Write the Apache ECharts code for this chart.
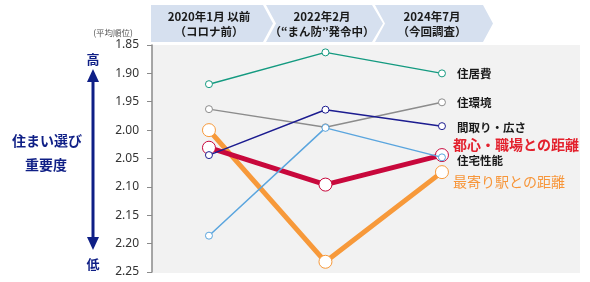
<!DOCTYPE html>
<html><head><meta charset="utf-8">
<style>html,body{margin:0;padding:0;background:#fff;}#c{width:590px;height:282px;}</style>
<script src="https://cdn.jsdelivr.net/npm/echarts@6/dist/echarts.min.js"></script>
</head><body><div id="c"></div>
<script>
const categories = ['2020年1月 以前\n（コロナ前）', '2022年2月\n（“まん防”発令中）', '2024年7月\n（今回調査）'];
const yTicks = [1.85, 1.90, 1.95, 2.00, 2.05, 2.10, 2.15, 2.20, 2.25];
const seriesNames = ['住居費', '住環境', '間取り・広さ', '住宅性能', '都心・職場との距離', '最寄り駅との距離'];
const housingCost = [1.919, 1.863, 1.900];
const environment = [1.963, 1.995, 1.951];
const layoutSize = [2.044, 1.964, 1.993];
const performance = [2.186, 1.996, 2.048];
const cityDistance = [2.031, 2.096, 2.044];
const stationDistance = [2.000, 2.232, 2.074];

const chart = echarts.init(document.getElementById('c'), null, {renderer: 'canvas'});
const JP = '"Noto Sans CJK JP", sans-serif';
const navy = '#0f1f86';

function mk(name, vals, color, width, symSize, z, lab) {
  return {
    type: 'line', name: name, z: z,
    data: vals.map((v, i) => i === vals.length - 1 ? {
      value: [i, v],
      label: Object.assign({show: true, position: 'right', formatter: name, fontFamily: JP}, lab)
    } : [i, v]),
    lineStyle: {color: color, width: width},
    itemStyle: {color: '#fff', borderColor: color, borderWidth: 1},
    symbol: 'circle', symbolSize: symSize, showSymbol: true,
    emphasis: {disabled: true}, silent: true
  };
}
const small = (dy) => ({fontSize: 11.5, fontWeight: 'bold', color: '#1a1a1a', distance: 11, offset: [0, dy]});

const chev = (pts) => ({type: 'polygon', shape: {points: pts}, style: {fill: '#d6e0ef'}, silent: true});
const headerX = [209, 322, 432];

const graphics = [
  {type: 'rect', z: -100, shape: {x: 152, y: 45, width: 428, height: 228}, style: {fill: '#f2f2f2'}, silent: true},
  chev([[151,5],[263,5],[273,23.5],[263,42],[151,42]]),
  chev([[266,5],[372,5],[383,23.5],[372,42],[266,42],[276,23.5]]),
  chev([[375,5],[483,5],[493,23.5],[483,42],[375,42],[385,23.5]])
];
categories.forEach((c, i) => {
  const lines = c.split('\n');
  lines.forEach((t, j) => graphics.push({
    type: 'text', x: headerX[i], y: j === 0 ? 17 : 31.5,
    style: {text: t, fill: '#1a1a1a', font: 'bold 11.5px ' + JP, align: 'center', verticalAlign: 'middle'}
  }));
});
graphics.push(
  {type: 'text', x: 113, y: 32.5, style: {text: '(平均順位)', fill: '#555', font: '8.5px ' + JP, align: 'center', verticalAlign: 'middle'}},
  {type: 'text', x: 93, y: 59.5, style: {text: '高', fill: navy, font: 'bold 13px ' + JP, align: 'center', verticalAlign: 'middle'}},
  {type: 'text', x: 93, y: 264, style: {text: '低', fill: navy, font: 'bold 13px ' + JP, align: 'center', verticalAlign: 'middle'}},
  {type: 'line', shape: {x1: 93, y1: 80, x2: 93, y2: 239}, style: {stroke: navy, lineWidth: 3}},
  {type: 'polygon', shape: {points: [[93,69],[87,82],[99,82]]}, style: {fill: navy}},
  {type: 'polygon', shape: {points: [[93,250],[87,237],[99,237]]}, style: {fill: navy}},
  {type: 'text', x: 47, y: 141, style: {text: '住まい選び', fill: navy, font: 'bold 14px ' + JP, align: 'center', verticalAlign: 'middle'}},
  {type: 'text', x: 46, y: 165, style: {text: '重要度', fill: navy, font: 'bold 14px ' + JP, align: 'center', verticalAlign: 'middle'}}
);

chart.setOption({
  animation: false,
  grid: {left: 152, right: 10, top: 45, bottom: 10, show: true, backgroundColor: '#f2f2f2', borderWidth: 0},
  xAxis: {type: 'value', min: -0.489, max: 3.185, show: false},
  yAxis: {
    type: 'value', inverse: true, min: yTicks[0], max: yTicks[yTicks.length - 1], interval: 0.05,
    axisLine: {show: true, onZero: false, lineStyle: {color: '#8a8a8a', width: 1.5}},
    axisTick: {show: true, length: 5, lineStyle: {color: '#8a8a8a'}},
    splitLine: {show: false},
    axisLabel: {margin: 13, color: '#333', fontSize: 12, fontFamily: '"Noto Sans", sans-serif', formatter: v => v.toFixed(2)}
  },
  series: [
    mk(seriesNames[5], stationDistance, '#f7993a', 5, 13, 2, {fontSize: 14, color: '#f7963a', distance: 4, offset: [0, 10]}),
    mk(seriesNames[4], cityDistance, '#c8083c', 5, 13, 3, {fontSize: 14, fontWeight: 'bold', color: '#e3212d', distance: 4, offset: [0, -10]}),
    mk(seriesNames[0], housingCost, '#149a80', 1.5, 7, 4, small(0.5)),
    mk(seriesNames[1], environment, '#8c8c8c', 1.5, 7, 4, small(0.5)),
    mk(seriesNames[2], layoutSize, '#1c1c90', 1.5, 7, 4, small(1)),
    mk(seriesNames[3], performance, '#5aa5de', 1.5, 7, 4, small(3))
  ],
  graphic: graphics
});
</script></body></html>
